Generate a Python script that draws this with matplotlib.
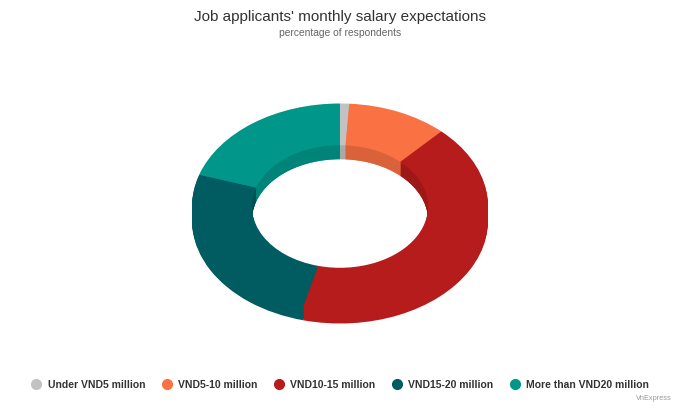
import matplotlib
matplotlib.use("Agg")
from matplotlib import pyplot as plt
from matplotlib.lines import Line2D
from matplotlib.patches import Circle
import matplotlib.colors as mcolors

plt.rcParams['font.family'] = ['Liberation Sans', 'DejaVu Sans']

# data (percentage of respondents)
categories = ["Under VND5 million", "VND5-10 million", "VND10-15 million",
              "VND15-20 million", "More than VND20 million"]
shares = [1, 11, 42, 26, 20]
colors = ["#c2c2c2", "#fa7143", "#b71c1c", "#005c61", "#00968a"]

title = "Job applicants' monthly salary expectations"
subtitle = "percentage of respondents"
credit = "VnExpress"


def darker(c, f=0.87):
    r, g, b = mcolors.to_rgb(c)
    return (r * f, g * f, b * f)


W, H = 680, 408
fig = plt.figure(figsize=(W / 100, H / 100), dpi=100)

# pie axes: x range [-1, 1] -> 296 px, y squashed (103 px per unit)
rx_px, ry_px = 148, 103
depth = 14 / ry_px
ylo, yhi = -1.0 - depth - 0.05, 1.0
cx_px, cy_px = 340, 206.5
top_px = cy_px - ry_px * yhi
h_px = ry_px * (yhi - ylo)
ax = fig.add_axes([(cx_px - rx_px) / W, 1 - (top_px + h_px) / H,
                   2 * rx_px / W, h_px / H])

hole = 0.595
ring = dict(width=1 - hole, linewidth=0)
nlayers = 14

# outer side wall: same colour as the faces
for i in range(nlayers, 0, -1):
    ax.pie(shares, colors=colors, startangle=90, counterclock=False,
           center=(0, -depth * i / nlayers), wedgeprops=ring)

# inner wall seen through the hole: darker, clipped to the hole
hole_clip = Circle((0, 0), hole, transform=ax.transData)
wall_colors = [darker(c) for c in colors]
for i in range(nlayers, 0, -1):
    wedges, _ = ax.pie(shares, colors=wall_colors, startangle=90,
                       counterclock=False, center=(0, -depth * i / nlayers),
                       wedgeprops=ring)
    for w in wedges:
        w.set_clip_on(True)
        w.set_clip_path(hole_clip)

# top face
ax.pie(shares, colors=colors, startangle=90, counterclock=False,
       center=(0, 0), wedgeprops=ring)
ax.set_aspect('auto')
ax.set_xlim(-1, 1)
ax.set_ylim(ylo, yhi)
ax.axis('off')

fig.text(0.5, 1 - 17 / H, title, ha='center', va='center',
         fontsize=11, color='#333333')
fig.text(0.5, 1 - 33.5 / H, subtitle, ha='center', va='center',
         fontsize=7.4, color='#666666')
fig.text(1 - 8 / W, 1 - 398 / H, credit, ha='right', va='center',
         fontsize=5.3, color='#999999')

handles = [Line2D([], [], marker='o', linestyle='none', markersize=7,
                  markerfacecolor=c, markeredgecolor=c) for c in colors]
fig.legend(handles, categories, loc='center', ncol=5,
           bbox_to_anchor=(340 / W, 1 - 385 / H), frameon=False,
           prop=dict(size=7.5, weight='bold'), labelcolor='#333333',
           handletextpad=0.6, columnspacing=1.55, handlelength=1.0)

fig.savefig("out.png", dpi=100)
